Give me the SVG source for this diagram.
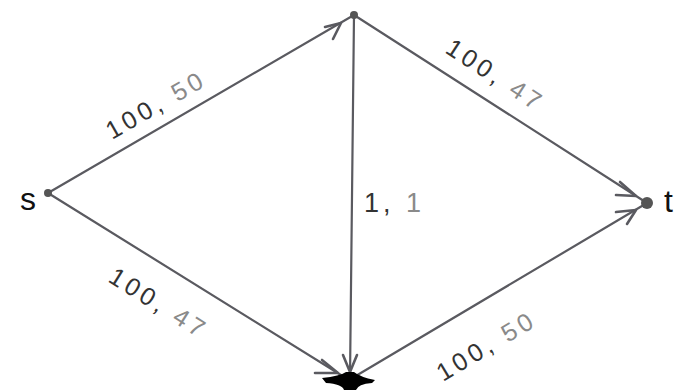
<svg xmlns="http://www.w3.org/2000/svg" width="693" height="390" viewBox="0 0 693 390">
<style>
.edge{stroke:#5a5a60;stroke-width:2.2;fill:none;stroke-linecap:round}
.head{stroke:#5a5a60;stroke-width:2.6;fill:none;stroke-linecap:round;stroke-linejoin:round}
.node{fill:#555}
.lbl{font-family:"Liberation Sans",Arial,sans-serif;font-size:25px;letter-spacing:4px}
.dk{fill:#333}
.lt{fill:#8a8a8a}
.name{font-family:"Liberation Sans",Arial,sans-serif;font-size:32px;fill:#111}
</style>
<rect width="693" height="390" fill="#fff"/>
<g id="connectors">
  <line class="edge" x1="48" y1="193" x2="354" y2="15"/>
  <polyline class="head" points="325,27 341,23 333,39"/>
  <line class="edge" x1="354" y1="15" x2="647" y2="203"/>
  <polyline class="head" points="620,182 636,196 616,195"/>
  <line class="edge" x1="48" y1="193" x2="349" y2="380"/>
  <polyline class="head" points="322,360 338,373 315,373"/>
  <line class="edge" x1="349" y1="380" x2="647" y2="203"/>
  <polyline class="head" points="616,212 636,210 627,224"/>
  <line class="edge" x1="354" y1="15" x2="350" y2="378"/>
  <polyline class="head" points="343,355 350,372 357,355"/>
</g>
<g id="node-s">
  <circle class="node" cx="48" cy="193" r="4"/>
  <text class="name" x="20" y="210">s</text>
</g>
<g id="node-top">
  <circle class="node" cx="354" cy="15" r="4"/>
</g>
<g id="node-t">
  <circle class="node" cx="647" cy="203" r="6"/>
  <text class="name" x="664" y="212">t</text>
</g>
<g id="node-bottom">
  <path d="M322,378 Q340,376 346,372 L354,372 Q360,377 375,380 L372,383 Q358,384 356,390 L344,390 Q342,384 326,383 Z" fill="#000"/>
</g>
<g id="labels">
  <text class="lbl" transform="translate(112,140) rotate(-30)"><tspan class="dk">100, </tspan><tspan class="lt">50</tspan></text>
  <text class="lbl" transform="translate(444,52) rotate(33)"><tspan class="dk">100, </tspan><tspan class="lt">47</tspan></text>
  <text class="lbl" transform="translate(107,281) rotate(32)"><tspan class="dk">100, </tspan><tspan class="lt">47</tspan></text>
  <text class="lbl" transform="translate(443,382) rotate(-31)"><tspan class="dk">100, </tspan><tspan class="lt">50</tspan></text>
  <text class="lbl dk" x="364" y="212" style="font-size:27px"><tspan>1, </tspan><tspan class="lt">1</tspan></text>
</g>
</svg>
